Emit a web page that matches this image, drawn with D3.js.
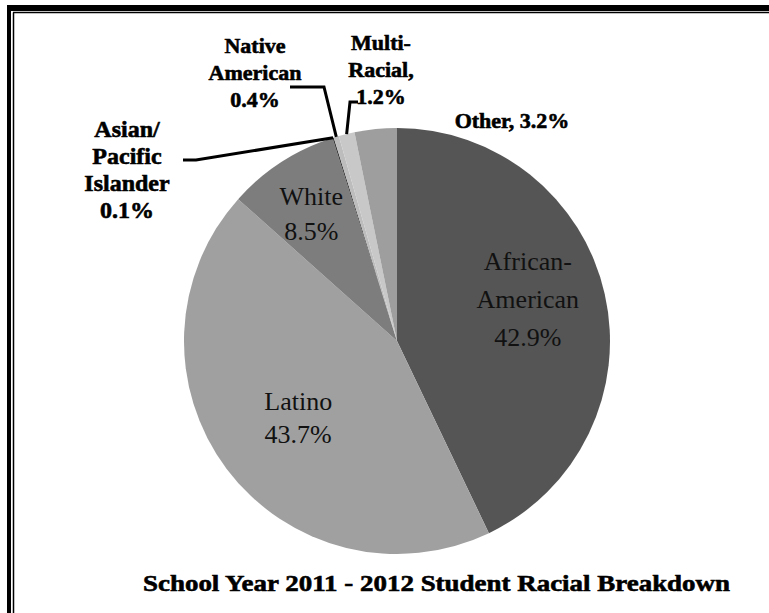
<!DOCTYPE html>
<html>
<head>
<meta charset="utf-8">
<script src="https://cdn.jsdelivr.net/npm/d3@7"></script>
<style>
  html, body { margin: 0; padding: 0; background: #fff; }
  svg { display: block; }
</style>
</head>
<body>
<svg id="chart" width="769" height="613"></svg>
<script>
// ---- data ----
const categories = ["African-American", "Latino", "White", "Asian/Pacific Islander", "Native American", "Multi-Racial", "Other"];
const values = [42.9, 43.7, 8.5, 0.1, 0.4, 1.2, 3.2];
const nameLines = [["African-", "American"], ["Latino"], ["White"], ["Asian/", "Pacific", "Islander"], ["Native", "American"], ["Multi-", "Racial,"], ["Other,"]];
const title = "School Year 2011 - 2012 Student Racial Breakdown";

// ---- style / layout ----
const FONT = '"Liberation Serif", "Times New Roman", Tinos, serif';
const colors = ["#555555", "#a0a0a0", "#7d7d7d", "#3c3c3c", "#bdbdbd", "#c8c8c8", "#9e9e9e"];
const cx = 397, cy = 341, R = 213;
const inside = [true, true, true, false, false, false, false];
const insideRadius = [0.63, 0.58, 0.74];
const insideShift = [-12, 2, 5];
const insideLineHeight = [38, 33, 35];
const outsideLayout = {
  3: { x: 127, y: 137, size: 24, elbow: [[183, 160], [196, 160]] },
  4: { x: 255, y: 53, size: 22, elbow: [[290, 87], [324, 87]] },
  5: { x: 381, y: 50, size: 22, elbow: [[358, 102], [350, 102]] },
  6: { x: 512, y: 128, size: 22 }
};

const svg = d3.select("#chart");

// frame
svg.append("rect").attr("x", 7).attr("y", 5).attr("width", 762).attr("height", 6).attr("fill", "#000");
svg.append("rect").attr("x", 7).attr("y", 5).attr("width", 4).attr("height", 608).attr("fill", "#000");
svg.append("line").attr("x1", 13.5).attr("y1", 12.5).attr("x2", 13.5).attr("y2", 613).attr("stroke", "#000").attr("stroke-width", 1.5);
svg.append("line").attr("x1", 13).attr("y1", 12.5).attr("x2", 769).attr("y2", 12.5).attr("stroke", "#000").attr("stroke-width", 1.5);

const pie = d3.pie().sort(null).value(d => d)(values);
const arc = d3.arc().innerRadius(0).outerRadius(R);
const g = svg.append("g").attr("transform", `translate(${cx},${cy})`);

g.selectAll("path.slice").data(pie).join("path")
  .attr("class", "slice")
  .attr("d", arc)
  .attr("fill", (d, i) => colors[i]);

const fmt = v => d3.format(".1f")(v) + "%";

pie.forEach((d, i) => {
  if (!inside[i]) return;
  const a = (d.startAngle + d.endAngle) / 2;
  const r = R * insideRadius[i];
  const x = cx + Math.sin(a) * r, y = cy - Math.cos(a) * r + insideShift[i];
  const lines = nameLines[i].concat([fmt(values[i])]);
  const lh = insideLineHeight[i];
  const t = svg.append("text")
    .style("font-family", FONT)
    .attr("font-size", 26).attr("fill", "#111").attr("text-anchor", "middle");
  lines.forEach((s, k) => {
    t.append("tspan").attr("x", x).attr("y", y + 9 + (k - (lines.length - 1) / 2) * lh).text(s);
  });
});

pie.forEach((d, i) => {
  if (inside[i]) return;
  const L = outsideLayout[i];
  let lines;
  if (i === 6) lines = [nameLines[i][0] + " " + fmt(values[i])];
  else lines = nameLines[i].concat([fmt(values[i])]);
  const lh = 27;
  const t = svg.append("text")
    .style("font-family", FONT)
    .attr("font-weight", "bold")
    .attr("font-size", L.size).attr("fill", "#000")
    .attr("stroke", "#000").attr("stroke-width", 0.6)
    .attr("text-anchor", "middle");
  lines.forEach((s, k) => {
    t.append("tspan").attr("x", L.x).attr("y", L.y + k * lh).text(s);
  });
  if (L.elbow) {
    const a = (d.startAngle + d.endAngle) / 2;
    const edge = [cx + Math.sin(a) * R, cy - Math.cos(a) * R];
    const pts = L.elbow.concat([edge]);
    svg.append("path")
      .attr("d", d3.line()(pts))
      .attr("fill", "none").attr("stroke", "#000").attr("stroke-width", 3);
  }
});

svg.append("text")
  .style("font-family", FONT)
  .attr("x", 143).attr("y", 591)
  .attr("font-weight", "bold").attr("font-size", 24)
  .attr("stroke", "#000").attr("stroke-width", 0.6)
  .attr("textLength", 587).attr("lengthAdjust", "spacingAndGlyphs")
  .attr("fill", "#000")
  .text(title);
</script>
</body>
</html>
